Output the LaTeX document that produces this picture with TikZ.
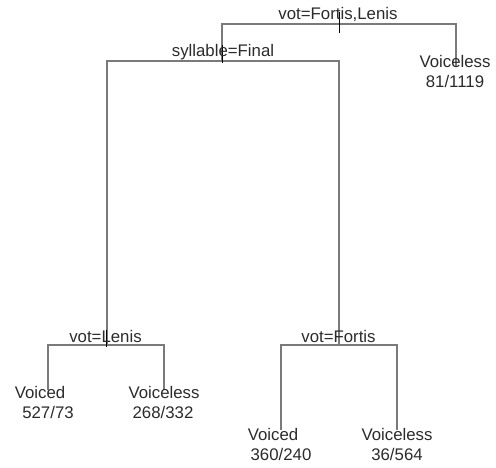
\documentclass[tikz,border=0pt]{standalone}
\usepackage{fontspec}
\setmainfont{Liberation Sans}
\usetikzlibrary{positioning, calc}
\definecolor{branchgray}{HTML}{7A7A7A}
\definecolor{textgray}{HTML}{2B2B2B}

\begin{document}
\begin{tikzpicture}[x=1pt, y=-1pt,
    edge/.style={draw=branchgray, line width=1.1pt},
    tick/.style={draw=black, line width=0.9pt},
    lbl/.style={inner sep=0pt, anchor=base, text=textgray, font=\fontsize{16.8}{20}\selectfont}]
  \useasboundingbox (0,0) rectangle (496,468);
  % Puntos de division
  \coordinate (root) at (339,24);
  \coordinate (syl) at (222,61);
  \coordinate (len) at (107,345);
  \coordinate (fort) at (339,345);
  % Extremos de las hojas
  \coordinate (hojaR) at (456,66);
  \coordinate (hojaLA) at (48,390);
  \coordinate (hojaLB) at (164,390);
  \coordinate (hojaFA) at (281,430);
  \coordinate (hojaFB) at (397,430);
  % Ramas
  \draw[edge] (syl) |- (root) -| (hojaR);
  \draw[edge] (len) |- (syl) -| (fort);
  \draw[edge] (hojaLA) |- (len) -| (hojaLB);
  \draw[edge] (hojaFA) |- (fort) -| (hojaFB);
  % Marcas de division
  \draw[tick] ($(root)+(0,-12)$) -- ($(root)+(0,9)$);
  \draw[tick] ($(syl)+(0,-16)$) -- ($(syl)+(0,2)$);
  \draw[tick] ($(len)+(-1,-15)$) -- ($(len)+(-1,2)$);
  % Etiquetas de division
  \node[lbl] (rootlbl) at (338,20) {vot=Fortis,Lenis};
  \node[lbl] (syllbl) at (223,57) {syllable=Final};
  \node[lbl] (lenlbl) at (105.5,342) {vot=Lenis};
  \node[lbl] (fortlbl) at (338.5,342) {vot=Fortis};
  % Hojas
  \node[lbl] (vlR) at (455,68) {Voiceless};
  \node[lbl] (nR) at (455,88) {81/1119};
  \node[lbl] (vdLA) at (40,398) {Voiced};
  \node[lbl] (nLA) at (48,418) {527/73};
  \node[lbl] (vlLB) at (164,398) {Voiceless};
  \node[lbl] (nLB) at (163,418) {268/332};
  \node[lbl] (vdFA) at (273,440) {Voiced};
  \node[lbl] (nFA) at (281,460) {360/240};
  \node[lbl] (vlFB) at (397,440) {Voiceless};
  \node[lbl] (nFB) at (397,460) {36/564};
\end{tikzpicture}
\end{document}
